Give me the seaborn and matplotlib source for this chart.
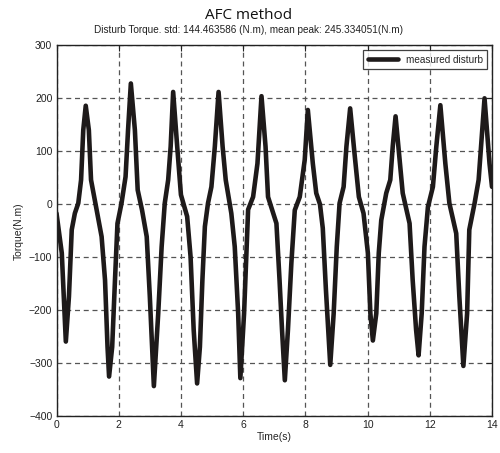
import matplotlib
matplotlib.use("Agg")
import matplotlib.pyplot as plt
import seaborn as sns
import pandas as pd

# Measured disturbance torque samples
time_s = [0.00, 0.17, 0.30, 0.40, 0.49, 0.59, 0.70, 0.79, 0.86, 0.94,
          1.04, 1.11, 1.26, 1.45, 1.56, 1.64, 1.69, 1.79, 1.88, 1.96,
          2.09, 2.22, 2.30, 2.39, 2.52, 2.61, 2.75, 2.90, 3.00, 3.13,
          3.27, 3.38, 3.48, 3.59, 3.67, 3.75, 3.88, 4.00, 4.20, 4.31,
          4.41, 4.52, 4.61, 4.69, 4.77, 4.87, 4.98, 5.09, 5.21, 5.34,
          5.44, 5.62, 5.73, 5.84, 5.91, 6.03, 6.16, 6.32, 6.46, 6.59,
          6.72, 6.80, 7.07, 7.17, 7.25, 7.34, 7.44, 7.55, 7.66, 7.82,
          7.98, 8.08, 8.24, 8.35, 8.47, 8.56, 8.66, 8.80, 8.91, 9.01,
          9.10, 9.23, 9.32, 9.44, 9.58, 9.72, 9.87, 10.01, 10.09, 10.17,
          10.28, 10.36, 10.44, 10.60, 10.73, 10.81, 10.90, 11.13, 11.35, 11.45,
          11.56, 11.64, 11.74, 11.83, 11.94, 12.10, 12.21, 12.34, 12.50, 12.63,
          12.85, 12.95, 13.08, 13.20, 13.27, 13.44, 13.57, 13.76, 13.92, 14.00]
torque_nm = [-17, -92, -259, -174, -48, -17, 2, 46, 140, 186,
             140, 46, -1, -61, -143, -269, -325, -269, -143, -36,
             2, 52, 140, 228, 140, 27, -11, -61, -174, -343,
             -206, -80, 2, 46, 109, 212, 109, 18, -23, -99,
             -237, -338, -269, -143, -42, 2, 33, 109, 212, 109,
             46, -17, -80, -206, -328, -206, -10, 14, 77, 204,
             109, 14, -36, -143, -237, -332, -237, -111, -11, 14,
             84, 178, 77, 21, 0, -45, -160, -303, -206, -80,
             2, 33, 109, 181, 96, 14, -17, -92, -206, -257,
             -206, -92, -30, 21, 46, 110, 166, 21, -36, -143,
             -237, -285, -206, -80, -5, 33, 109, 187, 77, 2,
             -55, -174, -305, -206, -48, 2, 46, 200, 77, 33]

title_text = "AFC method"
subtitle_text = "Disturb Torque. std: 144.463586 (N.m), mean peak: 245.334051(N.m)"
x_ticks = [0, 2, 4, 6, 8, 10, 12, 14]
y_ticks = [-400, -300, -200, -100, 0, 100, 200, 300]

df = pd.DataFrame({"Time(s)": time_s, "Torque(N.m)": torque_nm})

sns.set_style("white")
plt.rcParams["font.family"] = ["Liberation Sans", "DejaVu Sans"]

fig = plt.figure(figsize=(5.0, 4.53), dpi=100)
ax = fig.add_axes([0.113, 0.081, 0.871, 0.819])

sns.lineplot(data=df, x="Time(s)", y="Torque(N.m)", ax=ax, color="#1e1a1a",
             linewidth=3.3, label="measured disturb", sort=False,
             solid_joinstyle="round", solid_capstyle="round")

ax.set_xlim(0, 14)
ax.set_ylim(-400, 300)
ax.set_xticks(x_ticks)
ax.set_yticks(y_ticks)
ax.tick_params(direction="in", length=4, width=0.8, labelsize=7.5,
               top=True, right=True, colors="#222222", pad=3)
for s in ax.spines.values():
    s.set_color("#222222")
    s.set_linewidth(1.0)

ax.grid(True, color="#555555", linestyle=(0, (4, 3)), linewidth=0.9)

ax.set_xlabel("Time(s)", fontsize=7.5, labelpad=1)
ax.set_ylabel("Torque(N.m)", fontsize=7.5, labelpad=4)

fig.text(0.497, 0.965, title_text, ha="center", va="center", fontsize=11,
         family=["Open Sans", "DejaVu Sans"], color="#111111")
fig.text(0.497, 0.934, subtitle_text, ha="center", va="center", fontsize=7.2,
         color="#222222")

leg = ax.legend(loc="upper right", fontsize=7.2, frameon=True, fancybox=False,
                handlelength=3.0, borderpad=0.45, borderaxespad=0.5,
                handletextpad=0.8)
leg.get_frame().set_edgecolor("#111111")
leg.get_frame().set_linewidth(0.9)
for line in leg.get_lines():
    line.set_linewidth(3.3)

fig.savefig("out.png", dpi=100)
